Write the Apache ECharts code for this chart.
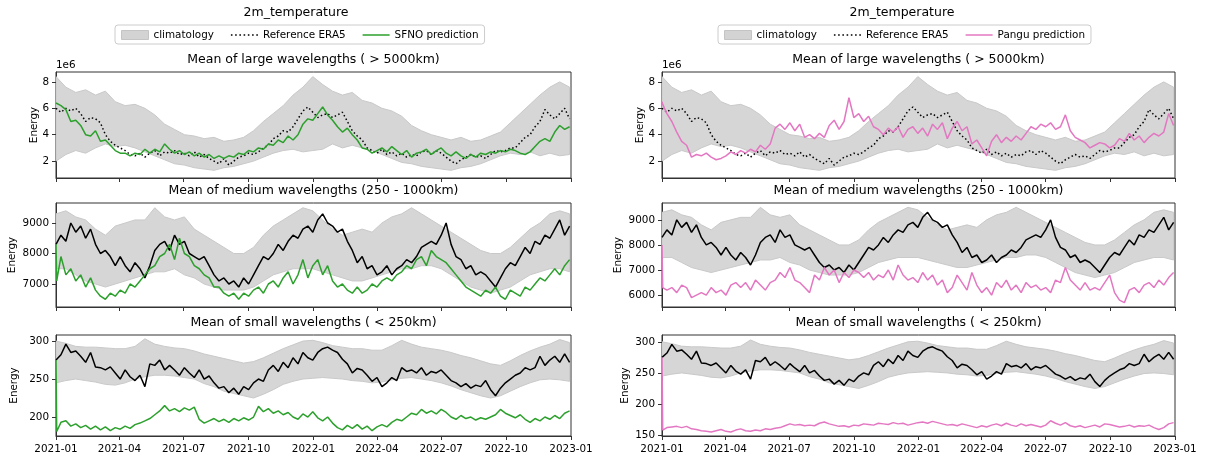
<!DOCTYPE html>
<html><head><meta charset="utf-8">
<script src="https://cdn.jsdelivr.net/npm/echarts@6/dist/echarts.min.js"></script>
<style>html,body{margin:0;padding:0;background:#fff}#c{width:1206px;height:462px}</style>
</head><body><div id="c"></div>
<script>
// ---------------- DATA ----------------
const startYear = 2021;
// line samples: day 0, day 1, then weekly
const lineDayOffsets = [0, 1].concat(Array.from({length: 104}, (_, k) => 7 * (k + 1)));
// climatology samples: every 14 days
const climDayOffsets = Array.from({length: 53}, (_, k) => 14 * k);
const xTickLabels = ['2021-01','2021-04','2021-07','2021-10','2022-01','2022-04','2022-07','2022-10','2023-01'];

// Large wavelengths (units of 1e6)
const climLargeLo = [2.0,2.5,2.8,2.6,3.0,3.3,3.1,3.2,3.0,2.7,2.4,2.1,1.8,1.7,1.5,1.4,1.3,1.5,1.6,1.8,2.0,2.3,2.6,2.8,2.9,2.7,2.8,2.9,3.3,3.0,3.2,3.0,2.8,2.5,2.2,1.9,1.8,1.6,1.5,1.4,1.3,1.5,1.6,1.8,2.1,2.4,2.6,2.5,2.7,2.4,2.6,2.4,2.5];
const climLargeHi = [8.4,7.6,7.2,7.4,7.0,7.3,6.5,6.2,6.3,6.0,5.5,4.8,4.4,4.0,3.9,3.7,3.8,3.5,3.6,3.8,4.3,5.0,5.6,6.2,7.0,7.6,8.4,7.8,7.3,7.0,7.2,6.6,6.4,6.0,5.8,5.4,4.7,4.3,4.0,3.8,3.6,3.8,3.5,3.6,3.9,4.2,4.9,5.6,6.3,7.0,7.6,8.0,7.6];
const era5Large = [6.0,5.9,5.7,6.0,5.8,6.0,5.6,5.0,5.3,5.2,4.9,4.0,3.5,3.2,3.0,2.8,2.5,2.4,2.6,2.3,2.6,2.8,2.4,2.7,2.6,2.8,2.5,2.6,2.4,2.7,2.3,2.5,2.2,2.0,1.8,2.2,1.7,2.0,2.3,2.4,2.6,2.5,2.7,3.0,3.2,3.7,3.9,4.3,4.2,4.6,5.2,5.8,6.1,5.7,5.3,5.5,5.6,5.3,5.5,5.7,5.0,4.3,3.9,3.6,3.0,2.8,2.6,2.9,2.5,2.7,2.4,2.6,2.3,2.5,2.4,2.7,2.8,2.5,2.8,2.6,2.3,2.0,1.8,2.1,2.3,2.5,2.3,2.4,2.2,2.5,2.8,2.7,2.8,3.0,3.0,3.4,3.8,4.0,4.6,5.0,5.9,5.5,5.2,5.6,6.0,5.2];
const sfnoLarge = [6.4,6.4,6.2,5.9,5.0,5.1,4.7,4.0,3.9,4.3,3.5,3.6,3.2,2.8,2.6,2.6,2.4,2.6,2.5,2.9,2.6,2.9,2.7,3.3,2.9,2.6,2.8,2.5,2.7,2.4,2.6,2.3,2.5,2.2,2.4,2.2,2.4,2.3,2.6,2.5,2.8,2.7,3.0,2.9,3.3,3.2,3.6,3.4,3.9,3.6,4.0,4.8,5.2,5.1,5.6,6.1,5.5,5.1,4.6,4.2,4.5,4.0,3.6,3.0,2.9,2.6,2.8,3.0,2.7,3.1,2.8,2.5,2.8,2.3,2.6,2.7,2.9,2.5,2.8,3.0,2.6,2.4,2.7,2.4,2.2,2.5,2.3,2.6,2.5,2.7,2.6,2.8,2.7,2.9,2.8,2.6,2.5,2.7,3.1,3.5,3.7,3.5,4.2,4.7,4.4,4.6];
const panguLarge = [6.5,6.3,5.6,5.0,4.2,3.5,3.2,2.3,2.5,2.4,2.6,2.3,2.1,2.2,2.4,2.7,2.5,2.8,2.6,2.9,2.7,3.2,2.9,3.3,4.5,4.8,4.4,4.9,4.3,4.8,3.8,4.0,3.7,4.1,3.8,4.7,5.1,4.4,5.0,6.8,5.3,5.6,5.0,5.4,4.6,4.4,4.0,4.5,4.2,4.6,3.8,4.4,4.6,4.1,4.5,3.9,4.8,4.4,4.9,3.7,4.5,5.0,4.3,4.6,3.3,3.6,3.0,2.4,3.5,4.0,3.4,3.8,3.5,3.9,3.6,4.1,4.6,4.4,4.8,4.6,4.9,4.4,4.6,5.5,4.3,3.8,3.6,3.4,3.0,3.2,3.4,3.3,3.0,3.2,3.7,3.5,4.1,3.6,3.9,3.4,3.8,4.1,3.9,4.2,5.6,4.7];

// Medium wavelengths
const climMediumLo = [7500,7500,7300,7100,7000,6900,7000,7100,7200,7300,7400,7400,7500,7300,7200,7000,6900,6800,6800,6800,6900,7100,7300,7400,7500,7500,7500,7400,7300,7200,7100,7100,7200,7300,7400,7500,7500,7600,7600,7500,7300,7100,6900,6800,6700,6800,6900,7100,7300,7400,7500,7500,7400];
const climMediumHi = [9300,9400,9200,9100,8800,8600,8900,9000,9100,9100,9500,9200,9100,9200,8800,8600,8400,8200,8000,8000,8200,8600,8900,9100,9300,9500,9400,9100,8800,8600,8700,8800,8700,9000,9200,9300,9500,9300,9100,8900,8700,8500,8300,8100,8000,8000,8200,8500,8800,9000,9300,9400,9300];
const era5Medium = [8300,8250,8600,8400,9000,8700,8900,8500,8800,8300,8000,8100,7900,7600,7900,7600,7400,7700,7500,7200,7600,8100,8300,8400,8100,8600,8300,8400,8000,7900,7800,7900,7600,7300,7100,7200,7000,7100,6900,7200,7000,7300,7600,7900,7800,8000,8300,8100,8400,8600,8500,8800,8900,8700,9100,9300,9000,8900,8700,8800,8400,8100,7700,7900,7500,7600,7300,7400,7600,7300,7500,7600,7800,7700,7900,8200,8300,8400,8300,8600,9000,8300,7900,7800,7500,7600,7300,7400,7300,7100,6900,7200,7500,7700,7600,7900,8200,8000,8400,8300,8600,8500,8800,9100,8600,8900];
const sfnoMedium = [8300,7100,7900,7300,7500,7100,7300,6900,7200,6800,6600,6500,6700,6600,6800,6700,7000,6900,7100,7300,7500,7600,7900,8000,8300,7800,8500,8000,7900,7600,7500,7300,7200,6900,6900,6700,6600,6700,6500,6700,6600,6800,6900,6700,7000,7100,6900,7200,7400,7000,7300,7800,7200,7600,7800,7300,7600,7100,6900,7000,6800,6700,6900,6700,6800,7000,6900,7100,7200,7100,7300,7400,7600,7500,7800,7900,7600,8100,7900,7800,7700,7500,7300,7100,6900,6800,6700,6600,6800,6700,6900,6600,6500,6800,6700,6600,6900,6800,7000,7200,7100,7300,7500,7300,7600,7800];
const panguMedium = [8000,6300,6200,6300,6100,6400,6300,5900,6000,6100,6000,6300,6100,6200,6000,6400,6500,6300,6500,6200,6600,6400,6200,6500,6600,6900,6700,7100,6600,6500,6300,6100,6800,6600,7100,6800,7000,6500,6900,6700,7000,6900,6700,6900,6600,6800,6700,7000,6600,7200,6800,6600,6700,6500,6900,6600,6800,6400,6600,6100,6300,6800,6500,6200,6900,6400,6100,6300,6000,6500,6300,6600,6200,6400,6100,6500,6300,6400,6200,6300,6100,6600,6500,7100,6600,6400,6200,6500,6200,6300,6200,6500,6800,6100,5800,5700,6200,6300,6100,6400,6500,6300,6600,6400,6700,6900];

// Small wavelengths
const climSmallLo = [245,248,250,248,246,243,242,245,250,253,255,255,254,252,250,244,240,234,231,228,225,230,236,243,247,250,251,252,251,250,248,247,245,246,249,251,252,250,248,245,241,236,232,228,225,228,234,240,245,249,250,249,247];
const climSmallHi = [300,297,293,292,292,291,290,290,293,303,296,293,291,290,287,283,280,277,274,271,273,278,284,290,295,300,301,298,294,292,290,290,288,288,294,301,296,292,290,288,285,281,278,274,270,268,274,281,287,292,296,302,298];
const era5Small = [275,274,282,296,285,287,280,272,285,266,265,262,266,258,250,262,253,248,255,240,270,268,275,262,268,262,255,265,258,252,262,250,254,245,238,240,232,238,230,240,236,245,250,247,262,268,260,272,265,278,270,285,278,275,285,290,292,288,285,276,270,258,264,262,255,247,252,240,245,252,248,265,260,262,258,265,255,260,258,262,255,248,245,240,244,238,242,240,248,236,228,238,245,250,255,258,265,262,265,280,268,275,280,272,283,272];
const sfnoSmall = [275,181,193,195,188,191,186,189,184,188,183,187,182,186,184,188,185,190,192,195,198,203,208,215,208,211,207,212,209,213,197,192,195,198,194,197,193,198,195,199,196,200,214,207,211,205,208,203,206,200,197,204,200,207,199,195,200,192,186,183,189,185,190,184,188,182,187,190,187,193,197,195,200,205,203,210,205,208,204,210,206,200,197,202,198,200,196,199,197,200,203,210,205,202,199,203,197,193,198,195,200,197,202,198,205,208];
const panguSmall = [275,158,162,163,164,162,164,160,159,157,156,155,157,159,156,155,158,160,157,156,158,157,160,159,161,162,165,168,166,167,165,166,165,169,171,168,166,164,165,163,166,165,168,167,166,169,168,167,170,168,169,166,168,170,171,169,172,170,168,166,167,165,168,166,164,162,165,163,166,168,165,169,166,164,168,165,167,165,163,166,173,169,166,170,165,163,165,162,164,166,163,168,167,165,163,164,166,163,165,164,166,162,159,162,168,170];

const yTicksLeft = [[2,4,6,8],[7000,8000,9000],[200,250,300]];
const yTicksRight = [[2,4,6,8],[6000,7000,8000,9000],[150,200,250,300]];
const rowTitles = ['Mean of large wavelengths ( > 5000km)','Mean of medium wavelengths (250 - 1000km)','Mean of small wavelengths ( < 250km)'];

// ---------------- BUILD ----------------
const FONT = '"DejaVu Sans", sans-serif';
const toTime = off => new Date(startYear, 0, 1 + off).getTime();
const lineTimes = lineDayOffsets.map(toTime);
const climTimes = climDayOffsets.map(toTime);
const xTickTimes = xTickLabels.map(s => { const [y, m] = s.split('-').map(Number); return new Date(y, m - 1, 1).getTime(); });
const tMin = xTickTimes[0], tMax = xTickTimes[xTickTimes.length - 1];
const labelFor = v => { let best = 0; for (let i = 1; i < xTickTimes.length; i++) if (Math.abs(xTickTimes[i] - v) < Math.abs(xTickTimes[best] - v)) best = i; return xTickLabels[best]; };

const clims = [[climLargeLo, climLargeHi], [climMediumLo, climMediumHi], [climSmallLo, climSmallHi]];
const era5 = [era5Large, era5Medium, era5Small];

const rows = [{top: 72, height: 106}, {top: 203, height: 104}, {top: 335, height: 101}];
const panels = [
  {left: 56, width: 515, name: 'SFNO prediction', color: '#2ca02c', pred: [sfnoLarge, sfnoMedium, sfnoSmall],
   y: [{min: 0.72, max: 8.75}, {min: 6246, max: 9656}, {min: 175, max: 308}], ticks: yTicksLeft,
   center: 296, legendLeft: 115, energyX: [34, 12, 14]},
  {left: 662, width: 513, name: 'Pangu prediction', color: '#e377c2', pred: [panguLarge, panguMedium, panguSmall],
   y: [{min: 0.72, max: 8.75}, {min: 5526, max: 9672}, {min: 148.5, max: 311}], ticks: yTicksRight,
   center: 902, legendLeft: 718, energyX: [640, 618, 625]}
];

const DOT_ICON = 'path://M0,0h1.5v1.5h-1.5z M4,0h1.5v1.5h-1.5z M8,0h1.5v1.5h-1.5z M12,0h1.5v1.5h-1.5z M16,0h1.5v1.5h-1.5z M20,0h1.5v1.5h-1.5z M24,0h1.5v1.5h-1.5z';
const LINE_ICON = 'path://M0,0h27v1.5h-27z';

const grids = [], xAxes = [], yAxes = [], series = [], graphics = [], legends = [];
const pair = (times, vals) => vals.map((v, i) => [times[i], v]);

panels.forEach((p, pi) => {
  graphics.push({type: 'text', x: p.center, y: 13, style: {text: '2m_temperature', align: 'center', verticalAlign: 'middle', font: '12.5px ' + FONT, fill: '#000'}});
  graphics.push({type: 'text', x: p.left, y: 65, style: {text: '1e6', align: 'left', verticalAlign: 'middle', font: '10.4px ' + FONT, fill: '#000'}});
  legends.push({
    left: p.legendLeft, top: 25, orient: 'horizontal', itemWidth: 27, itemHeight: 9, itemGap: 17,
    padding: [5, 6, 4, 6], borderColor: '#cccccc', borderWidth: 1, borderRadius: 3, backgroundColor: '#fff',
    textStyle: {fontSize: 10.4, fontFamily: FONT, color: '#000'},
    selectedMode: false, symbolKeepAspect: true,
    data: [
      {name: 'climatology', icon: 'rect', itemStyle: {color: '#d3d3d3', borderColor: '#c4c4c4', borderWidth: 1}},
      {name: 'Reference ERA5', icon: DOT_ICON, itemStyle: {color: '#000', borderWidth: 0}},
      {name: p.name, icon: LINE_ICON, itemStyle: {color: p.color, borderWidth: 0}}
    ]
  });
  rows.forEach((r, ri) => {
    const idx = grids.length;
    grids.push({left: p.left, top: r.top, width: p.width, height: r.height, show: true, borderColor: '#333', borderWidth: 1, backgroundColor: 'transparent'});
    xAxes.push({type: 'value', gridIndex: idx, min: tMin, max: tMax, scale: true,
      axisLine: {show: true, onZero: false, lineStyle: {color: '#333', width: 1}},
      axisTick: {show: true, customValues: xTickTimes, length: 4, lineStyle: {color: '#333'}},
      axisLabel: {show: ri === 2, customValues: xTickTimes, formatter: v => labelFor(v), fontSize: 10.4, fontFamily: FONT, color: '#000', margin: 8, showMinLabel: true, showMaxLabel: true, hideOverlap: false},
      splitLine: {show: false}});
    const yr = p.y[ri], ticks = p.ticks[ri];
    yAxes.push({type: 'value', gridIndex: idx, min: yr.min, max: yr.max,
      axisLine: {show: true, onZero: false, lineStyle: {color: '#333', width: 1}},
      axisTick: {show: true, customValues: ticks, length: 4, lineStyle: {color: '#333'}},
      axisLabel: {customValues: ticks, formatter: v => String(v), fontSize: 10.4, fontFamily: FONT, color: '#000', margin: 7},
      splitLine: {show: false}});
    graphics.push({type: 'text', x: p.left + p.width / 2, y: r.top - 12, style: {text: rowTitles[ri], align: 'center', verticalAlign: 'middle', font: '12.5px ' + FONT, fill: '#000'}});
    graphics.push({type: 'text', x: p.energyX[ri], y: r.top + r.height / 2, rotation: Math.PI / 2, style: {text: 'Energy', align: 'center', verticalAlign: 'middle', font: '10.4px ' + FONT, fill: '#000'}});

    const [lo, hi] = clims[ri];
    series.push({type: 'custom', name: 'climatology', xAxisIndex: idx, yAxisIndex: idx, silent: true, z: 1,
      itemStyle: {color: '#d3d3d3'}, clip: true,
      data: [[climTimes[0], lo[0]]],
      renderItem: (params, api) => {
        const pts = [];
        for (let k = 0; k < hi.length; k++) pts.push(api.coord([climTimes[k], hi[k]]));
        for (let k = lo.length - 1; k >= 0; k--) pts.push(api.coord([climTimes[k], lo[k]]));
        return {type: 'polygon', shape: {points: pts}, style: {fill: '#d6d6d6', stroke: '#c9c9c9', lineWidth: 1}};
      }});
    series.push({type: 'line', name: 'Reference ERA5', xAxisIndex: idx, yAxisIndex: idx, z: 3,
      symbol: 'none', showSymbol: false, animation: false, silent: true,
      lineStyle: {color: '#000', width: 1.5, type: ri === 0 ? [1.5, 2.5] : 'solid'},
      itemStyle: {color: '#000'},
      data: pair(lineTimes, era5[ri])});
    series.push({type: 'line', name: p.name, xAxisIndex: idx, yAxisIndex: idx, z: 4,
      symbol: 'none', showSymbol: false, animation: false, silent: true,
      lineStyle: {color: p.color, width: 1.5},
      itemStyle: {color: p.color},
      data: pair(lineTimes, p.pred[ri])});
  });
});

const chart = echarts.init(document.getElementById('c'), null, {renderer: 'canvas'});
chart.setOption({
  animation: false,
  backgroundColor: '#fff',
  grid: grids, xAxis: xAxes, yAxis: yAxes, series: series,
  legend: legends,
  graphic: graphics
});
</script>
</body></html>
